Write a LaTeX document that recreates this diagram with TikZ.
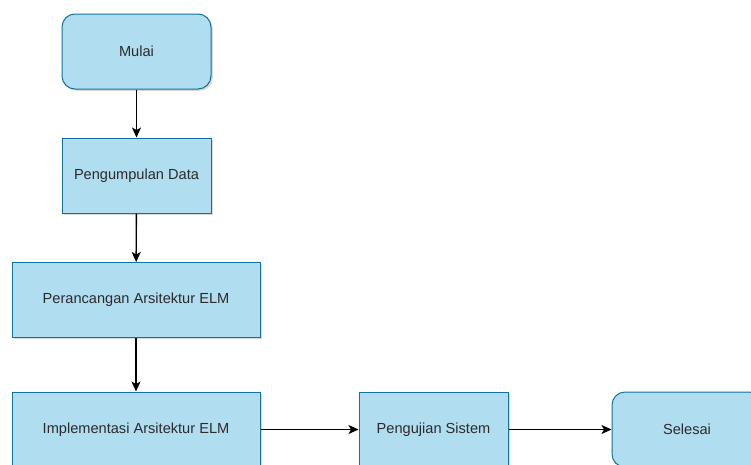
\documentclass[tikz,border=0pt]{standalone}
\usepackage{fontspec}
\setmainfont{Liberation Sans}
\usetikzlibrary{arrows.meta,shadows}
\definecolor{boxfill}{HTML}{B1DDF0}
\definecolor{boxline}{HTML}{10739E}
\definecolor{txt}{HTML}{2B2B2B}
\begin{document}
\begin{tikzpicture}[x=1pt,y=-1pt,
  box/.style={draw=boxline,fill=boxfill,line width=1pt,text=txt,
    font=\fontsize{14.6}{17}\selectfont,inner sep=0pt,
    drop shadow={shadow xshift=1.8pt,shadow yshift=-1.8pt,opacity=0.25,fill=black!60}},
  procbox/.style={box,rectangle},
  termbox/.style={box,rounded corners=13pt},
  conn/.style={draw=black,line width=1.4pt,-{Stealth[length=10pt,width=9pt,inset=2.5pt]}}]
\useasboundingbox (0,0) rectangle (751,464);
\node[termbox,minimum width=149pt,minimum height=75pt] (mulai) at (136.5,51.5) {Mulai};
\node[procbox,minimum width=149pt,minimum height=75pt] (data) at (136.5,175.5) {Pengumpulan Data};
\node[procbox,minimum width=248pt,minimum height=75pt] (rancang) at (136,300) {Perancangan Arsitektur ELM};
\node[procbox,minimum width=248pt,minimum height=75pt] (impl) at (136,429.5) {Implementasi Arsitektur ELM};
\node[procbox,minimum width=149pt,minimum height=75pt] (uji) at (433.5,429.5) {Pengujian Sistem};
\node[termbox,minimum width=150pt,minimum height=75pt] (selesai) at (687,429.5) {Selesai};
\draw[conn] (mulai) -- (data);
\draw[conn] (data) -- (rancang);
\draw[conn] (rancang) -- (impl);
\draw[conn] (impl) -- (uji);
\draw[conn] (uji) -- (selesai);
\end{tikzpicture}
\end{document}
